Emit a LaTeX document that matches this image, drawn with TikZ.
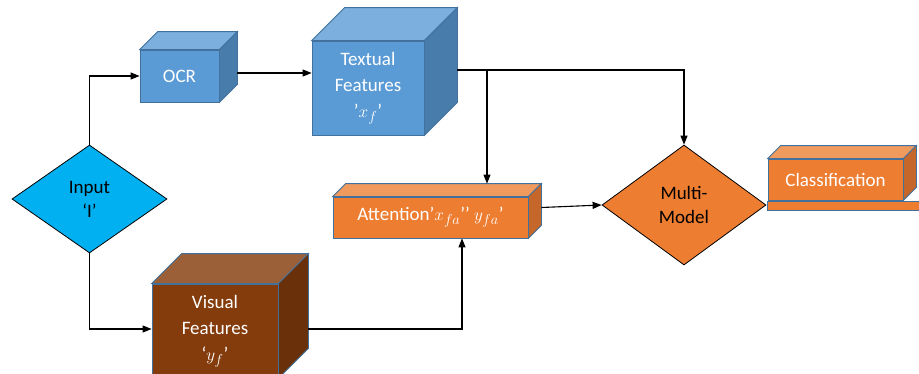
\documentclass[tikz,border=0pt]{standalone}
\usepackage{fontspec}
\setmainfont{Carlito}
\usetikzlibrary{shapes.geometric, arrows.meta, positioning, calc}

\definecolor{boxblue}{HTML}{5B9BD5}
\definecolor{boxbluetop}{HTML}{7CAFDD}
\definecolor{boxblueside}{HTML}{487CAB}
\definecolor{edgeblue}{HTML}{41719C}
\definecolor{inputcyan}{HTML}{00B0F0}
\definecolor{boxorange}{HTML}{ED7D31}
\definecolor{boxorangetop}{HTML}{F19A5E}
\definecolor{boxorangeside}{HTML}{C5662A}
\definecolor{boxbrown}{HTML}{843C0C}
\definecolor{boxbrowntop}{HTML}{9C6039}
\definecolor{boxbrownside}{HTML}{6A300A}

% top and side faces of a box: node, depth, top colour, side colour
\newcommand{\cubefaces}[4]{%
  \filldraw[edge, fill=#3] (#1.north west) -- ++(#2,-#2) -- ($(#1.north east)+(#2,-#2)$) -- (#1.north east) -- cycle;
  \filldraw[edge, fill=#4] (#1.north east) -- ++(#2,-#2) -- ($(#1.south east)+(#2,-#2)$) -- (#1.south east) -- cycle;
}

\begin{document}
\begin{tikzpicture}[
  x=1pt, y=-1pt,
  edge/.style={draw=edgeblue, line width=0.8pt},
  cube/.style={rectangle, edge, inner sep=0pt, align=center, text=white, font=\fontsize{19}{26}\selectfont},
  decision/.style={diamond, draw=black, line width=0.8pt, inner sep=0pt, align=center, font=\fontsize{19}{24}\selectfont},
  flow/.style={line width=1.1pt, -{Triangle[length=9pt, width=7pt]}},
  >=Triangle
]
\useasboundingbox (0,0) rectangle (919,373);

\node[decision, fill=inputcyan, minimum width=155pt, minimum height=108pt, aspect=1.43] (inp) at (89.5,199) {Input\\‘I’};

\node[cube, fill=boxblue, minimum width=79pt, minimum height=52pt] (ocr) at (179.5,76) {OCR};
\cubefaces{ocr}{18}{boxbluetop}{boxblueside}

\node[cube, fill=boxblue, minimum width=112pt, minimum height=94pt] (txt) at (368,88) {Textual\\Features\\’$x_f$’};
\cubefaces{txt}{33}{boxbluetop}{boxblueside}

\node[cube, fill=boxbrown, minimum width=126pt, minimum height=94pt] (vis) at (215,331) {Visual\\Features\\‘$y_f$’};
\cubefaces{vis}{30}{boxbrowntop}{boxbrownside}

\node[cube, fill=boxorange, minimum width=195pt, minimum height=41pt] (att) at (430.5,217.5) {Attention’$x_{fa}$’’ $y_{fa}$’};
\cubefaces{att}{13}{boxorangetop}{boxorangeside}

\node[decision, fill=boxorange, minimum width=164pt, minimum height=120pt, aspect=1.37] (mm) at (684,205) {Multi-\\Model};

\node[cube, fill=boxorange, minimum width=135pt, minimum height=41pt] (cls) at (835.5,179.5) {Classification};
\cubefaces{cls}{13}{boxorangetop}{boxorangeside}
\node[rectangle, edge, fill=boxorange, inner sep=0pt, minimum width=158pt, minimum height=9pt, below right=1pt and -1pt of cls.south west] (bar) {};

\coordinate (br) at (487,70);
\coordinate (atttop) at ([yshift=13pt]att.north);

\draw[flow] (inp.north) |- (ocr.west);
\draw[flow] ([xshift=18pt,yshift=3pt]ocr.east) -- ([yshift=3pt]ocr.east -| txt.west);
\draw[flow] ([xshift=33pt,yshift=18pt]txt.east) -| (mm.north);
\draw[flow] (br) -- (br |- atttop);
\draw[flow] (inp.south) |- ([yshift=2pt]vis.west);
\draw[flow] ([xshift=30pt,yshift=2pt]vis.east) -| ([xshift=31.5pt]att.south);
\draw[flow] ([xshift=13pt,yshift=10pt]att.east) -- (mm.west);

\end{tikzpicture}
\end{document}
